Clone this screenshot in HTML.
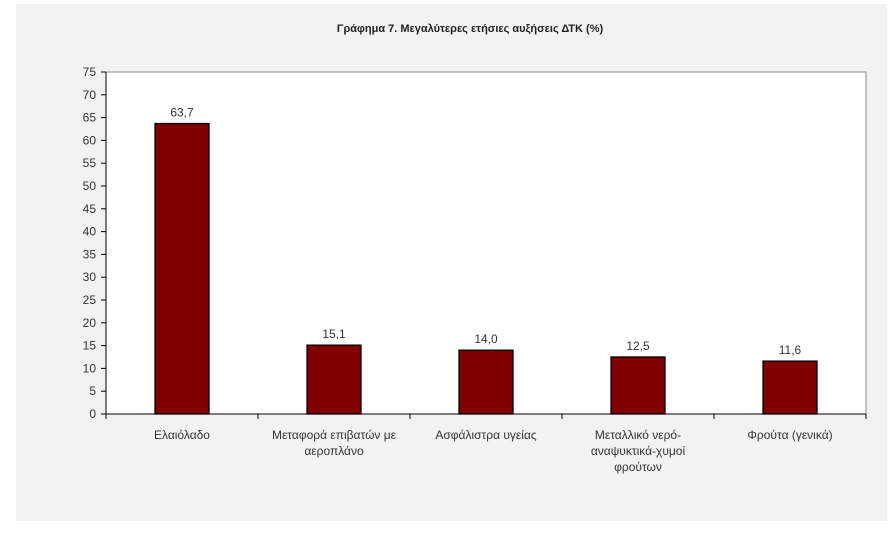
<!DOCTYPE html>
<html><head><meta charset="utf-8"><style>
body{margin:0;background:#fff;width:895px;height:542px;overflow:hidden;font-family:"Liberation Sans","DejaVu Sans",sans-serif}
</style></head><body>
<svg width="895" height="542" style="display:block">
<rect x="16" y="4" width="871" height="517" fill="#f2f2f2"/>
<text x="470" y="32" text-anchor="middle" font-size="11" font-weight="bold" fill="#222">Γράφημα 7. Μεγαλύτερες ετήσιες αυξήσεις ΔΤΚ (%)</text>
<rect x="106" y="72" width="760" height="342" fill="#fff" stroke="#888" stroke-width="1"/>
<g id="g"></g>
</svg>
<script>
const categories=[["Ελαιόλαδο"],["Μεταφορά επιβατών με","αεροπλάνο"],["Ασφάλιστρα υγείας"],["Μεταλλικό νερό-","αναψυκτικά-χυμοί","φρούτων"],["Φρούτα (γενικά)"]];
const values=[63.7,15.1,14.0,12.5,11.6];
const valueLabels=["63,7","15,1","14,0","12,5","11,6"];
const yTicks=[0,5,10,15,20,25,30,35,40,45,50,55,60,65,70,75];
const L=106,R=866,T=72,B=414,yMax=75;
const y=v=>B-(v/yMax)*(B-T);
const bw=(R-L)/categories.length;
const x=i=>L+bw*i;
const g=document.getElementById('g');
const NS='http://www.w3.org/2000/svg';
function mk(t,a){const e=document.createElementNS(NS,t);for(const k in a)e.setAttribute(k,a[k]);g.appendChild(e);return e;}
yTicks.forEach(v=>{
 const l=mk('line',{x1:L-5,x2:L,y1:y(v),y2:y(v),stroke:'#000'});
 
 
 const t=mk('text',{x:L-10,y:y(v)+4,'text-anchor':'end','font-size':12,fill:'#333'});
 t.textContent=v;
 
 
});
mk('line',{x1:L,x2:L,y1:T,y2:B,stroke:'#000'});
mk('line',{x1:L,x2:R,y1:B,y2:B,stroke:'#000'});
for(let i=0;i<=categories.length;i++){
 const l=mk('line',{x1:x(i),x2:x(i),y1:B,y2:B+5,stroke:'#000'});
 
 
}
values.forEach((v,i)=>{
 const cx=x(i)+bw/2,w=54;
 const r=mk('rect',{x:cx-w/2,y:y(v),width:w,height:B-y(v),fill:'#800000',stroke:'#000','stroke-width':1.3});
 
 
 const t=mk('text',{x:cx,y:y(v)-7,'text-anchor':'middle','font-size':12,fill:'#333'});
 t.textContent=valueLabels[i];
 
 
 categories[i].forEach((line,j)=>{
  const c=mk('text',{x:cx,y:B+25+j*16,'text-anchor':'middle','font-size':12,fill:'#333'});
  c.textContent=line;
  
  
 });
});
</script>
</body></html>
